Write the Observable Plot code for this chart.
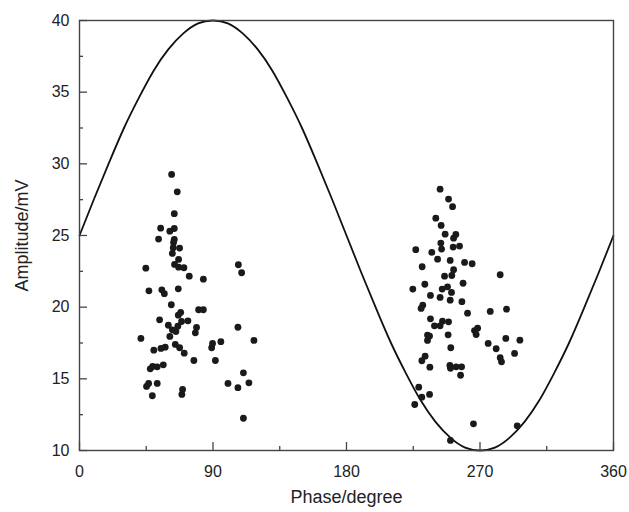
<!DOCTYPE html>
<html><head><meta charset="utf-8">
<script src="https://cdn.jsdelivr.net/npm/d3@7"></script>
<script src="https://cdn.jsdelivr.net/npm/@observablehq/plot@0.6"></script>
<style>html,body{margin:0;padding:0;background:#fff}svg{display:block}</style>
</head><body><div id="chart"></div>
<script>
// Measured points (phase in degrees, amplitude in mV)
const dotPhase = [
  62.1,65.9,63.9,54.7,63.9,60.9,53.3,63.9,63.4,63.2,67.5,62.6,66.8,64.1,66.8,70.4,44.7,74.0,
  46.8,55.5,57.2,66.6,61.9,68.2,66.6,80.3,54.0,68.8,73.1,59.9,66.3,78.9,62.6,65.0,78.1,60.9,
  41.4,64.6,67.5,57.8,54.9,50.1,70.6,77.1,56.5,52.4,49.3,47.7,46.6,52.4,45.2,69.5,69.0,49.1,
  83.5,107.1,109.3,83.5,106.8,117.6,89.7,89.1,95.3,91.6,110.5,100.1,106.8,114.2,110.5,
  243.1,248.8,251.5,240.2,243.8,246.5,253.7,252.2,243.6,226.7,244.1,251.9,256.2,237.5,241.4,
  249.9,259.6,264.7,231.0,252.2,246.1,251.0,283.6,232.8,258.6,224.7,244.5,248.1,250.8,236.6,
  243.1,249.9,257.8,231.4,230.3,
  276.9,287.9,261.6,236.6,239.3,243.1,244.7,248.8,234.6,236.0,234.6,248.5,266.3,268.4,267.4,
  275.5,280.9,287.4,296.9,250.3,233.0,230.8,283.6,284.5,293.3,236.2,249.7,250.1,253.9,257.6,
  256.9,228.7,230.8,236.0,226.0,265.6,295.1,250.1
];
const dotAmp = [
  29.26,28.05,26.52,25.51,25.49,25.30,24.75,24.72,24.52,24.15,24.12,23.75,23.33,22.98,22.79,22.75,22.72,22.16,
  21.14,21.21,20.94,21.28,20.17,19.63,19.44,19.82,19.12,19.00,19.05,18.74,18.67,18.58,18.42,18.30,18.21,17.96,
  17.82,17.40,17.17,17.21,17.12,17.00,16.79,16.28,15.98,15.84,15.86,15.70,14.68,14.68,14.47,14.26,13.91,13.82,
  21.95,22.96,22.40,19.82,18.60,17.68,17.47,17.17,17.59,16.28,15.42,14.68,14.38,14.72,12.25,
  28.23,27.54,27.01,26.21,25.70,25.09,25.07,24.81,24.47,24.01,24.05,24.19,24.26,23.82,23.35,
  23.26,23.12,23.03,22.82,22.61,22.16,22.21,22.26,21.60,21.67,21.26,21.26,21.42,21.03,20.82,
  20.68,20.49,20.38,20.14,19.91,
  19.70,19.86,19.58,19.19,18.70,18.70,19.02,18.98,18.05,17.98,17.68,18.07,18.37,18.53,18.09,
  17.47,17.10,17.82,17.70,17.17,16.58,16.26,16.47,16.19,16.77,15.81,15.93,15.74,15.84,15.84,
  15.25,14.42,13.72,13.91,13.21,11.86,11.72,10.70
];
// Fitted curve, every 10 degrees
const curvePhase = [0,10,20,30,40,50,60,70,80,90,100,110,120,130,140,150,160,170,180,
  190,200,210,220,230,240,250,260,270,280,290,300,310,320,330,340,350,360];
const curveAmp = [25,27.6,30.1,32.5,34.6,36.5,38.0,39.1,39.8,40,39.8,39.1,38.0,36.5,34.6,32.5,30.1,27.6,25,
  22.4,19.9,17.5,15.4,13.5,12.0,10.9,10.2,10,10.2,10.9,12.0,13.5,15.4,17.5,19.9,22.4,25];

const xTicks = [0,90,180,270,360];
const xMinor = [45,135,225,315];
const yTicks = [10,15,20,25,30,35,40];
const yMinor = [12.5,17.5,22.5,27.5,32.5,37.5];
const xLabel = "Phase/degree";
const yLabel = "Amplitude/mV";

const dots = dotPhase.map((p, i) => ({p, a: dotAmp[i]}));
const curve = curvePhase.map((p, i) => ({p, a: curveAmp[i]}));

const W = 629, H = 512, mL = 79, mR = 16, mT = 20, mB = 62;
const innerW = W - mL - mR, innerH = H - mT - mB;
const font = "'Liberation Sans', Arial, Helvetica, sans-serif";
const axisCol = "#444";
const txtCol = "#222";

const chart = Plot.plot({
  width: W,
  height: H,
  marginLeft: mL,
  marginRight: mR,
  marginTop: mT,
  marginBottom: mB,
  style: {fontFamily: font, background: "#fff", color: txtCol},
  x: {domain: [0, 360]},
  y: {domain: [10, 40]},
  marks: [
    Plot.line(curve, {x: "p", y: "a", curve: "natural", stroke: "#111", strokeWidth: 1.8}),
    Plot.dot(dots, {x: "p", y: "a", r: 3.4, fill: "#1a1a1a", stroke: "none"}),
    // inward ticks
    Plot.ruleX(xTicks, {x: d => d, insetTop: innerH - 8, stroke: axisCol, strokeWidth: 1.3}),
    Plot.ruleX(xMinor, {x: d => d, insetTop: innerH - 4, stroke: axisCol, strokeWidth: 1.3}),
    Plot.ruleY(yTicks, {y: d => d, insetRight: innerW - 8, stroke: axisCol, strokeWidth: 1.3}),
    Plot.ruleY(yMinor, {y: d => d, insetRight: innerW - 4, stroke: axisCol, strokeWidth: 1.3}),
    Plot.frame({stroke: axisCol, strokeWidth: 1.4}),
    Plot.axisX(xTicks, {tickSize: 0, tickPadding: 15, fontSize: 16, fill: txtCol, label: null}),
    Plot.axisY(yTicks, {tickSize: 0, tickPadding: 10, fontSize: 16, fill: txtCol, label: null}),
    Plot.text([xLabel], {frameAnchor: "bottom", lineAnchor: "middle", textAnchor: "middle", dy: 47, fontSize: 18, fill: txtCol}),
    Plot.text([yLabel], {frameAnchor: "left", lineAnchor: "middle", textAnchor: "middle", dx: -57, rotate: -90, fontSize: 18, fill: txtCol})
  ]
});
document.getElementById("chart").appendChild(chart);
</script>
</body></html>
